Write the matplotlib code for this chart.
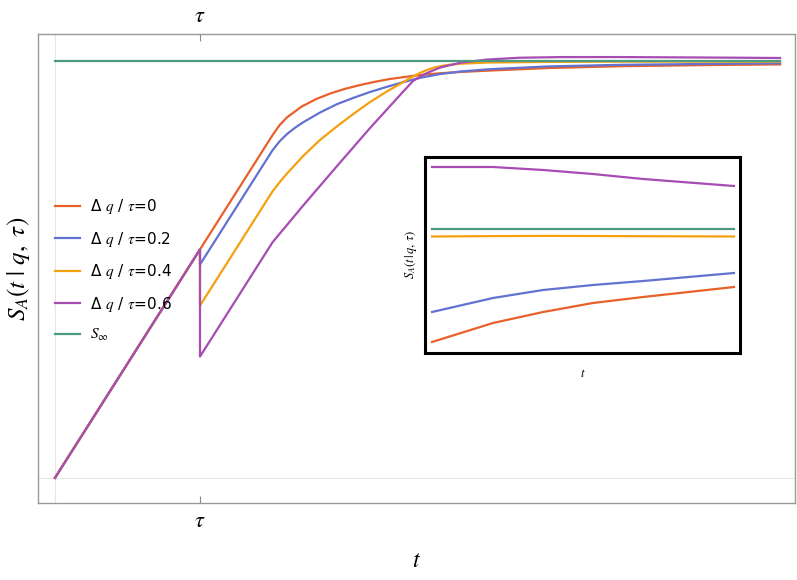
import matplotlib
matplotlib.use("Agg")
import matplotlib.pyplot as plt

plt.rcParams['mathtext.fontset'] = 'stix'

# shared linear rise before tau (tau = 1)
t_pre = [0.0, 1.0]
s_pre = [0.0, 1.0]

# S_infinity level
s_inf = 1.826

# curves after tau, one per dq/tau
t_q0 = [1.0, 1.5, 1.55, 1.6, 1.7, 1.8, 1.9, 2.0, 2.1, 2.2, 2.3, 2.4, 2.5, 2.65, 2.8, 3.0, 3.4, 3.9, 4.5, 5.0]
s_q0 = [1.0, 1.5, 1.545, 1.578, 1.625, 1.658, 1.683, 1.703, 1.719, 1.733, 1.745, 1.754, 1.762, 1.771, 1.777, 1.783, 1.794, 1.802, 1.807, 1.810]

t_q2 = [1.0, 1.0, 1.5, 1.55, 1.6, 1.65, 1.71, 1.83, 1.945, 2.06, 2.172, 2.29, 2.4, 2.517, 2.65, 2.8, 3.0, 3.4, 3.9, 4.5, 5.0]
s_q2 = [1.0, 0.934, 1.434, 1.474, 1.505, 1.530, 1.556, 1.600, 1.636, 1.664, 1.689, 1.712, 1.732, 1.751, 1.767, 1.779, 1.789, 1.801, 1.808, 1.812, 1.815]

t_q4 = [1.0, 1.0, 1.5, 1.55, 1.6, 1.71, 1.82, 1.945, 2.06, 2.172, 2.29, 2.4, 2.48, 2.55, 2.62, 2.7, 2.8, 2.98, 3.43, 3.9, 5.0]
s_q4 = [1.0, 0.754, 1.254, 1.295, 1.332, 1.408, 1.475, 1.539, 1.594, 1.645, 1.692, 1.732, 1.761, 1.782, 1.797, 1.807, 1.813, 1.818, 1.821, 1.822, 1.822]

t_q6 = [1.0, 1.0, 1.5, 1.71, 1.945, 2.172, 2.4, 2.47, 2.55, 2.655, 2.793, 2.979, 3.2, 3.5, 3.9, 4.5, 5.0]
s_q6 = [1.0, 0.531, 1.031, 1.191, 1.365, 1.531, 1.690, 1.738, 1.768, 1.796, 1.817, 1.831, 1.839, 1.842, 1.842, 1.840, 1.838]

# inset: late-time deviation from S_infinity (zoomed)
inset_t = [0.0, 0.202, 0.368, 0.533, 0.699, 1.0]
inset_q0 = [-0.113, -0.094, -0.083, -0.074, -0.068, -0.058]
inset_q2 = [-0.083, -0.069, -0.061, -0.056, -0.052, -0.044]
inset_q4 = [-0.0075, -0.0071, -0.0069, -0.0070, -0.0072, -0.0075]
inset_q6 = [0.062, 0.062, 0.059, 0.055, 0.050, 0.043]
inset_inf = [0.0, 0.0, 0.0, 0.0, 0.0, 0.0]

labels = [r"Δ $q$ / $\tau$=0", r"Δ $q$ / $\tau$=0.2", r"Δ $q$ / $\tau$=0.4", r"Δ $q$ / $\tau$=0.6", r"$S_\infty$"]
colors = ["#E8602A", "#6272D0", "#F5A00F", "#A64CB3", "#4E9A80"]

fig = plt.figure(figsize=(7.97, 5.80), dpi=100)
ax = fig.add_axes([38 / 797, 77 / 580, 757 / 797, 469 / 580])

ax.axvline(0, color="#e6e6e6", lw=0.8, zorder=0)
ax.axhline(0, color="#e6e6e6", lw=0.8, zorder=0)

curves = [(t_q0, s_q0), (t_q2, s_q2), (t_q4, s_q4), (t_q6, s_q6)]
for i, (tt, ss) in enumerate(curves):
    ax.plot(t_pre + tt, s_pre + ss, color=colors[i], lw=1.6, label=labels[i])
ax.plot([0, 5.0], [s_inf, s_inf], color=colors[4], lw=1.6, label=labels[4])

ax.set_xlim(-0.117, 5.103)
ax.set_ylim(-0.110, 1.943)
ax.set_yticks([])
ax.set_xticks([1.0])
ax.set_xticklabels([r"$\tau$"])
ax.tick_params(axis="x", direction="in", length=5, color="#888888", labelsize=16,
               top=True, labeltop=True, pad=6)
for sp in ax.spines.values():
    sp.set_color("#999999")
    sp.set_linewidth(1.0)

ax.set_xlabel(r"$t$", fontsize=17, labelpad=12)
ax.set_ylabel(r"$S_A(t\ |\ q,\ \tau)$", fontsize=18, labelpad=4)

leg = ax.legend(loc="upper left", bbox_to_anchor=(0.0225, 0.652), frameon=False,
                fontsize=11, handlelength=1.65, handletextpad=0.65,
                labelspacing=0.88, borderpad=0, borderaxespad=0)

# inset
ins = fig.add_axes([425 / 797, 227 / 580, 315 / 797, 196 / 580])
ins_series = [inset_q0, inset_q2, inset_q4, inset_q6, inset_inf]
order = [4, 0, 1, 2, 3]
for i in order:
    ins.plot(inset_t, ins_series[i], color=colors[i], lw=1.6)
ins.set_xlim(-0.0232, 1.0199)
ins.set_ylim(-0.124, 0.072)
ins.set_xticks([])
ins.set_yticks([])
for sp in ins.spines.values():
    sp.set_color("black")
    sp.set_linewidth(2.2)
ins.set_xlabel(r"$t$", fontsize=9, labelpad=10)
ins.set_ylabel(r"$S_A(t\,|\,q,\,\tau)$", fontsize=9, labelpad=4)

fig.savefig("out.png", dpi=100)
